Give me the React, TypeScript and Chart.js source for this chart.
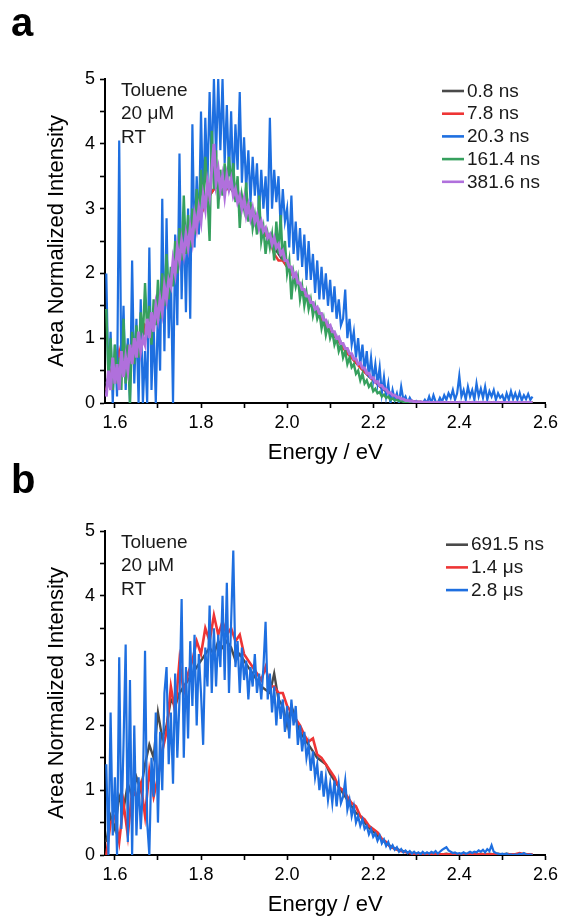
import React, { useEffect, useRef } from 'react';
import { Chart, registerables } from 'chart.js';

Chart.register(...registerables);

// ---------- data ----------
const ENERGY_FINE = [
  1.58, 1.585, 1.59, 1.595, 1.6, 1.605, 1.61, 1.615, 1.62, 1.625,
  1.63, 1.635, 1.64, 1.645, 1.65, 1.655, 1.66, 1.665, 1.67, 1.675,
  1.68, 1.685, 1.69, 1.695, 1.7, 1.705, 1.71, 1.715, 1.72, 1.725,
  1.73, 1.735, 1.74, 1.745, 1.75, 1.755, 1.76, 1.765, 1.77, 1.775,
  1.78, 1.785, 1.79, 1.795, 1.8, 1.805, 1.81, 1.815, 1.82, 1.825,
  1.83, 1.835, 1.84, 1.845, 1.85, 1.855, 1.86, 1.865, 1.87, 1.875,
  1.88, 1.885, 1.89, 1.895, 1.9, 1.905, 1.91, 1.915, 1.92, 1.925,
  1.93, 1.935, 1.94, 1.945, 1.95, 1.955, 1.96, 1.965, 1.97, 1.975,
  1.98, 1.985, 1.99, 1.995, 2.0, 2.005, 2.01, 2.015, 2.02, 2.025,
  2.03, 2.035, 2.04, 2.045, 2.05, 2.055, 2.06, 2.065, 2.07, 2.075,
  2.08, 2.085, 2.09, 2.095, 2.1, 2.105, 2.11, 2.115, 2.12, 2.125,
  2.13, 2.135, 2.14, 2.145, 2.15, 2.155, 2.16, 2.165, 2.17, 2.175,
  2.18, 2.185, 2.19, 2.195, 2.2, 2.205, 2.21, 2.215, 2.22, 2.225,
  2.23, 2.235, 2.24, 2.245, 2.25, 2.255, 2.26, 2.265, 2.27, 2.275,
  2.28, 2.285, 2.29, 2.295, 2.3, 2.305, 2.31, 2.315, 2.32, 2.325,
  2.33, 2.335, 2.34, 2.345, 2.35, 2.355, 2.36, 2.365, 2.37, 2.375,
  2.38, 2.385, 2.39, 2.395, 2.4, 2.405, 2.41, 2.415, 2.42, 2.425,
  2.43, 2.435, 2.44, 2.445, 2.45, 2.455, 2.46, 2.465, 2.47, 2.475,
  2.48, 2.485, 2.49, 2.495, 2.5, 2.505, 2.51, 2.515, 2.52, 2.525,
  2.53, 2.535, 2.54, 2.545, 2.55, 2.555, 2.56, 2.565, 2.57,
];

const ENERGY_COARSE = [
  1.58, 1.59, 1.6, 1.61, 1.62, 1.63, 1.64, 1.65, 1.66, 1.67,
  1.68, 1.69, 1.7, 1.71, 1.72, 1.73, 1.74, 1.75, 1.76, 1.77,
  1.78, 1.79, 1.8, 1.81, 1.82, 1.83, 1.84, 1.85, 1.86, 1.87,
  1.88, 1.89, 1.9, 1.91, 1.92, 1.93, 1.94, 1.95, 1.96, 1.97,
  1.98, 1.99, 2.0, 2.01, 2.02, 2.03, 2.04, 2.05, 2.06, 2.07,
  2.08, 2.09, 2.1, 2.11, 2.12, 2.13, 2.14, 2.15, 2.16, 2.17,
  2.18, 2.19, 2.2, 2.21, 2.22, 2.23, 2.24, 2.25, 2.26, 2.27,
  2.28, 2.29, 2.3, 2.31, 2.32, 2.33, 2.34, 2.35, 2.36, 2.37,
  2.38, 2.39, 2.4, 2.41, 2.42, 2.43, 2.44, 2.45, 2.46, 2.47,
  2.48, 2.49, 2.5, 2.51, 2.52, 2.53, 2.54, 2.55, 2.56, 2.57,
];

// Panel a
const A_GRAY_0_8NS = [
  0.3, 0.5, 0.5, 0.7, 0.6, 0.8, 0.8, 1.0, 1.0, 1.1,
  1.2, 1.3, 1.4, 1.6, 1.7, 1.9, 2.1, 2.3, 2.4, 2.6,
  2.7, 2.8, 2.9, 3.1, 3.2, 3.3, 3.35, 3.4, 3.35, 3.3,
  3.2, 3.1, 3.05, 2.95, 2.9, 2.8, 2.7, 2.6, 2.5, 2.4,
  2.3, 2.2, 2.1, 2.0, 1.9, 1.8, 1.7, 1.6, 1.5, 1.4,
  1.3, 1.2, 1.12, 1.03, 0.95, 0.86, 0.78, 0.7, 0.62, 0.55,
  0.48, 0.41, 0.35, 0.29, 0.23, 0.18, 0.14, 0.1, 0.07, 0.05,
  0.04, 0.03, 0.02, 0.015, 0.01, 0.01, 0.01, 0.01, 0.01, 0.01,
  0.01, 0.01, 0.01, 0.01, 0.01, 0.01, 0.01, 0.01, 0.01, 0.01,
  0.01, 0.01, 0.01, 0.01, 0.01, 0.01, 0.01, 0.01, 0.01, 0.01,
];

const A_RED_7_8NS = [
  0.2, 0.5, 0.4, 0.8, 0.5, 0.9, 0.7, 1.0, 0.9, 1.2,
  1.1, 1.4, 1.3, 1.6, 1.6, 1.9, 2.1, 2.3, 2.3, 2.6,
  2.6, 2.8, 2.9, 3.1, 3.2, 3.3, 3.4, 3.4, 3.3, 3.4,
  3.2, 3.1, 3.1, 2.9, 2.95, 2.8, 2.7, 2.6, 2.5, 2.3,
  2.2, 2.2, 2.1, 2.0, 1.9, 1.8, 1.7, 1.6, 1.5, 1.4,
  1.3, 1.2, 1.15, 1.05, 0.95, 0.85, 0.76, 0.7, 0.62, 0.55,
  0.48, 0.42, 0.35, 0.29, 0.23, 0.18, 0.14, 0.1, 0.08, 0.05,
  0.04, 0.03, 0.02, 0.015, 0.01, 0.01, 0.01, 0.01, 0.01, 0.01,
  0.01, 0.01, 0.01, 0.01, 0.01, 0.01, 0.01, 0.01, 0.01, 0.01,
  0.01, 0.01, 0.01, 0.01, 0.01, 0.01, 0.01, 0.01, 0.01, 0.01,
];

const A_BLUE_20_3NS = [
  2.0, 0.3, 1.1, 0.0, 0.9, 0.1, 4.05, 0.4, 1.5, 0.2,
  1.0, 0.0, 2.2, 0.3, 1.3, 0.0, 1.6, 0.0, 0.8, 0.0,
  2.4, 0.2, 1.2, 0.0, 1.5, 0.5, 3.15, 0.8, 2.85, 1.0,
  2.0, 0.0, 2.6, 1.2, 3.85, 1.6, 2.9, 1.4, 3.0, 1.3,
  4.3, 2.4, 3.5, 2.6, 4.5, 3.0, 4.4, 3.4, 4.8, 3.6,
  5.0, 3.8, 5.0, 3.9, 5.0, 3.7, 4.6, 3.5, 4.5, 3.3,
  4.3, 3.6, 4.8, 3.4, 4.1, 3.3, 3.9, 3.1, 3.8, 3.2,
  3.7, 2.9, 3.6, 3.0, 3.5, 2.8, 4.4, 3.0, 3.6, 3.1,
  3.5, 2.7, 3.3, 2.8, 3.0, 2.4, 3.2, 2.3, 2.8, 2.2,
  2.7, 2.1, 2.6, 1.9, 2.5, 1.9, 2.3, 1.7, 2.2, 1.6,
  2.1, 1.6, 2.0, 1.5, 1.9, 1.4, 1.8, 1.3, 1.6, 1.2,
  1.3, 1.75, 1.0, 1.3, 0.9, 1.1, 0.7, 1.0, 0.6, 0.9,
  0.5, 0.8, 0.4, 0.7, 0.35, 0.6, 0.3, 0.55, 0.15, 0.4,
  0.1, 0.3, 0.0, 0.2, 0.05, 0.15, 0.0, 0.25, 0.05, 0.1,
  0.0, 0.08, 0.02, 0.0, 0.03, 0.0, 0.02, 0.0, 0.05, 0.0,
  0.1, 0.0, 0.12, 0.02, 0.0, 0.08, 0.02, 0.12, 0.05, 0.15,
  0.08, 0.2, 0.05, 0.15, 0.42, 0.1, 0.2, 0.05, 0.25, 0.1,
  0.2, 0.05, 0.3, 0.1, 0.22, 0.08, 0.25, 0.05, 0.18, 0.1,
  0.2, 0.05, 0.15, 0.08, 0.12, 0.02, 0.15, 0.05, 0.18, 0.06,
  0.15, 0.05, 0.16, 0.04, 0.12, 0.06, 0.14, 0.05, 0.1,
];

const A_GREEN_161_4NS = [
  1.45, 0.4, 1.0, 0.2, 0.9, 0.3, 0.7, 0.2, 1.3, 0.3,
  0.9, 0.0, 1.1, 0.6, 1.2, 0.7, 1.4, 1.0, 1.85, 1.1,
  1.5, 0.9, 1.6, 1.2, 1.9, 1.3, 2.0, 1.5, 2.3, 1.6,
  2.1, 1.8, 2.5, 2.0, 2.7, 2.2, 3.2, 2.3, 2.9, 2.4,
  3.0, 2.6, 3.3, 2.8, 3.6, 3.0, 3.8, 3.2, 2.5, 4.2,
  3.3, 3.9, 3.0, 3.6, 3.2, 3.7, 3.3, 3.8, 3.4, 3.7,
  3.1, 3.5, 2.7, 3.2, 3.0, 3.4, 2.8, 3.1, 2.7, 2.9,
  2.6, 3.2, 2.5, 2.7, 2.3, 2.6, 2.4, 2.6, 2.2, 2.8,
  2.3, 2.9, 2.2, 2.5, 2.0, 2.2, 1.6, 2.0, 1.8, 1.95,
  1.6, 1.8, 1.5, 1.7, 1.45, 1.6, 1.35, 1.5, 1.3, 1.4,
  1.15, 1.3, 1.05, 1.2, 1.0, 1.1, 0.9, 1.0, 0.8, 0.9,
  0.7, 0.8, 0.6, 0.7, 0.55, 0.6, 0.45, 0.5, 0.35, 0.45,
  0.3, 0.35, 0.25, 0.3, 0.18, 0.22, 0.15, 0.17, 0.1, 0.13,
  0.08, 0.1, 0.05, 0.07, 0.04, 0.05, 0.03, 0.03, 0.02, 0.02,
  0.01, 0.02, 0.01, 0.0, 0.01, 0.0, 0.01, 0.0, 0.01, 0.0,
  0.01, 0.0, 0.01, 0.0, 0.01, 0.0, 0.01, 0.0, 0.01, 0.0,
  0.01, 0.0, 0.01, 0.0, 0.01, 0.0, 0.01, 0.0, 0.01, 0.0,
  0.01, 0.0, 0.01, 0.0, 0.01, 0.0, 0.01, 0.0, 0.01, 0.0,
  0.01, 0.0, 0.01, 0.0, 0.01, 0.0, 0.01, 0.0, 0.01, 0.0,
  0.01, 0.0, 0.01, 0.0, 0.01, 0.0, 0.01, 0.0, 0.01,
];

const A_PURPLE_381_6NS = [
  0.1, 0.5, 0.2, 0.7, 0.3, 0.6, 0.2, 0.8, 0.4, 0.7,
  0.5, 0.9, 0.6, 1.0, 0.7, 1.1, 0.8, 1.0, 0.9, 1.3,
  1.0, 1.4, 1.1, 1.5, 1.3, 1.6, 1.4, 1.8, 1.6, 1.9,
  1.8, 2.2, 2.0, 2.4, 2.2, 2.5, 2.3, 2.6, 2.4, 2.7,
  2.5, 2.9, 2.7, 3.0, 2.8, 3.2, 3.0, 3.4, 3.2, 3.6,
  4.0, 3.4, 3.6, 3.3, 3.5, 3.2, 3.5, 3.3, 3.45, 3.2,
  3.3, 3.1, 3.2, 3.0, 3.15, 2.9, 3.05, 2.85, 3.0, 2.8,
  2.9, 2.7, 2.8, 2.65, 2.7, 2.55, 2.6, 2.45, 2.55, 2.4,
  2.45, 2.3, 2.35, 2.2, 2.2, 2.1, 2.1, 1.95, 2.0, 1.85,
  1.85, 1.75, 1.75, 1.65, 1.65, 1.55, 1.55, 1.45, 1.48, 1.38,
  1.38, 1.28, 1.28, 1.18, 1.2, 1.1, 1.1, 1.0, 1.02, 0.92,
  0.92, 0.84, 0.84, 0.76, 0.76, 0.68, 0.68, 0.6, 0.62, 0.54,
  0.54, 0.46, 0.46, 0.39, 0.39, 0.32, 0.33, 0.27, 0.27, 0.22,
  0.21, 0.16, 0.16, 0.12, 0.12, 0.09, 0.09, 0.06, 0.06, 0.04,
  0.04, 0.03, 0.03, 0.02, 0.02, 0.015, 0.015, 0.01, 0.01, 0.01,
  0.01, 0.005, 0.01, 0.005, 0.01, 0.005, 0.01, 0.005, 0.01, 0.005,
  0.01, 0.005, 0.01, 0.005, 0.01, 0.005, 0.01, 0.005, 0.01, 0.005,
  0.01, 0.005, 0.01, 0.005, 0.01, 0.005, 0.01, 0.005, 0.01, 0.005,
  0.01, 0.005, 0.01, 0.005, 0.01, 0.005, 0.01, 0.005, 0.01, 0.005,
  0.01, 0.005, 0.01, 0.005, 0.01, 0.005, 0.01, 0.005, 0.01,
];

// Panel b
const B_GRAY_691_5NS = [
  0.2, 0.6, 0.4, 0.9, 0.7, 1.1, 0.9, 1.2, 1.0, 1.4,
  1.7, 1.5, 2.2, 1.8, 2.0, 2.4, 2.3, 2.5, 2.6, 2.7,
  2.8, 2.9, 3.0, 3.1, 3.2, 3.1, 3.3, 3.2, 3.3, 3.2,
  3.0, 3.1, 3.0, 2.9, 2.8, 2.7, 2.6, 2.55, 2.5, 2.8,
  2.4, 2.3, 2.0, 2.3, 2.1, 1.9, 1.8, 1.7, 1.6, 1.5,
  1.45, 1.4, 1.25, 1.15, 1.05, 0.95, 0.85, 0.75, 0.65, 0.6,
  0.5, 0.42, 0.36, 0.3, 0.24, 0.18, 0.14, 0.1, 0.08, 0.06,
  0.04, 0.03, 0.02, 0.02, 0.01, 0.02, 0.01, 0.02, 0.01, 0.02,
  0.01, 0.02, 0.01, 0.02, 0.01, 0.02, 0.01, 0.02, 0.01, 0.02,
  0.01, 0.02, 0.01, 0.02, 0.01, 0.01, 0.01, 0.02, 0.01, 0.01,
];

const B_RED_1_4US = [
  0.0, 0.5, 0.6, 0.2, 0.8, 0.3, 1.0, 0.9, 1.1, 0.6,
  1.3, 0.9, 1.2, 1.6, 1.9, 2.6, 2.2, 3.0, 2.5, 2.8,
  3.0, 3.3, 3.1, 3.5, 3.3, 3.7, 3.4, 3.6, 3.4, 3.5,
  3.3, 3.4, 3.1, 3.0, 2.9, 2.8, 2.7, 2.9, 2.6, 2.6,
  2.5, 2.5, 2.3, 2.2, 2.1, 2.0, 1.85, 1.75, 1.8, 1.55,
  1.5, 1.4, 1.3, 1.2, 1.05, 1.0, 0.9, 0.8, 0.75, 0.6,
  0.55, 0.45, 0.4, 0.35, 0.25, 0.2, 0.12, 0.1, 0.07, 0.05,
  0.04, 0.02, 0.01, 0.01, 0.01, 0.01, 0.01, 0.01, 0.01, 0.01,
  0.01, 0.01, 0.01, 0.01, 0.01, 0.01, 0.01, 0.01, 0.01, 0.01,
  0.01, 0.01, 0.01, 0.01, 0.01, 0.01, 0.03, 0.01, 0.01, 0.01,
];

const B_BLUE_2_8US = [
  1.4, 0.0, 2.2, 0.3, 1.2, 0.0, 3.05, 0.4, 1.7, 3.25,
  0.2, 2.7, 0.0, 2.0, 0.3, 1.2, 0.4, 1.0, 3.15, 0.5,
  0.0, 1.5, 0.9, 2.2, 0.5, 1.9, 1.0, 2.5, 2.9, 1.4,
  2.2, 1.1, 2.8, 1.5, 2.4, 3.95, 1.5, 2.9, 1.8, 3.3,
  2.3, 3.4, 2.0, 3.1, 2.5, 1.7, 3.2, 2.6, 3.85, 2.5,
  3.5, 2.6, 3.4, 2.9, 4.0, 2.7, 4.2, 2.5, 3.6, 4.7,
  2.9, 3.3, 2.5, 3.2, 2.7, 3.0, 2.4, 2.9, 2.6, 3.1,
  2.5, 2.8, 2.4, 2.9, 3.6, 2.4, 2.8, 2.2, 2.6, 2.0,
  2.5, 2.1, 2.4, 1.9, 2.3, 1.8, 2.4, 2.0, 2.3, 1.7,
  2.0, 1.6, 1.9, 1.5, 1.7, 1.3, 1.6, 1.2, 1.4, 1.0,
  1.3, 0.9, 1.2, 0.85, 1.1, 0.8, 1.15, 0.75, 1.1, 0.8,
  0.9, 1.15, 0.7, 0.85, 0.6, 0.75, 0.5, 0.6, 0.45, 0.55,
  0.4, 0.45, 0.32, 0.4, 0.28, 0.33, 0.22, 0.3, 0.18, 0.24,
  0.14, 0.2, 0.1, 0.15, 0.08, 0.12, 0.05, 0.09, 0.04, 0.07,
  0.03, 0.06, 0.02, 0.05, 0.02, 0.04, 0.01, 0.05, 0.02, 0.04,
  0.02, 0.05, 0.03, 0.06, 0.02, 0.05, 0.08, 0.1, 0.12, 0.07,
  0.05, 0.03, 0.04, 0.02, 0.03, 0.02, 0.04, 0.02, 0.03, 0.05,
  0.03, 0.05, 0.04, 0.07, 0.05, 0.08, 0.04, 0.09, 0.06, 0.15,
  0.05, 0.03, 0.02, 0.01, 0.02, 0.01, 0.02, 0.0, 0.01, 0.0,
  0.01, 0.0, 0.02, 0.01, 0.03, 0.01, 0.0, 0.01, 0.0,
];

const X_TICK_VALUES = [1.6, 1.7, 1.8, 1.9, 2.0, 2.1, 2.2, 2.3, 2.4, 2.5, 2.6];
const X_TICK_LABELS = ['1.6', '', '1.8', '', '2.0', '', '2.2', '', '2.4', '', '2.6'];
const Y_TICK_VALUES = [0, 0.5, 1, 1.5, 2, 2.5, 3, 3.5, 4, 4.5, 5];
const Y_TICK_LABELS = ['0', '', '1', '', '2', '', '3', '', '4', '', '5'];

const X_TITLE = 'Energy / eV';
const Y_TITLE = 'Area Normalized Intensity';
const ANNOTATION_LINES = ['Toluene', '20 μM', 'RT'];

const LABELS_A = ['0.8 ns', '7.8 ns', '20.3 ns', '161.4 ns', '381.6 ns'];
const LABELS_B = ['691.5 ns', '1.4 μs', '2.8 μs'];

// ---------- styling ----------
const FONT = 'Arial, "Liberation Sans", Helvetica, sans-serif';
const C_GRAY = '#4a4a4a';
const C_RED = '#ee3535';
const C_BLUE = '#1e6fe0';
const C_GREEN = '#36a05e';
const C_PURPLE = '#b070dc';

type Series = {
  label: string;
  energies: number[];
  values: number[];
  color: string;
  width: number;
  order: number;
};

const SERIES_A: Series[] = [
  { label: LABELS_A[0], energies: ENERGY_COARSE, values: A_GRAY_0_8NS, color: C_GRAY, width: 2.4, order: 5 },
  { label: LABELS_A[1], energies: ENERGY_COARSE, values: A_RED_7_8NS, color: C_RED, width: 2.4, order: 4 },
  { label: LABELS_A[2], energies: ENERGY_FINE, values: A_BLUE_20_3NS, color: C_BLUE, width: 2.2, order: 3 },
  { label: LABELS_A[3], energies: ENERGY_FINE, values: A_GREEN_161_4NS, color: C_GREEN, width: 2.4, order: 2 },
  { label: LABELS_A[4], energies: ENERGY_FINE, values: A_PURPLE_381_6NS, color: C_PURPLE, width: 3, order: 1 },
];

const SERIES_B: Series[] = [
  { label: LABELS_B[0], energies: ENERGY_COARSE, values: B_GRAY_691_5NS, color: C_GRAY, width: 2.4, order: 3 },
  { label: LABELS_B[1], energies: ENERGY_COARSE, values: B_RED_1_4US, color: C_RED, width: 2.6, order: 2 },
  { label: LABELS_B[2], energies: ENERGY_FINE, values: B_BLUE_2_8US, color: C_BLUE, width: 2.2, order: 1 },
];

type PanelProps = {
  letter: string;
  series: Series[];
  top: number;
  letterY: number;
  legendX: number;
  legendY: number;
};

function Panel({ letter, series, top, letterY, legendX, legendY }: PanelProps) {
  const ref = useRef<HTMLCanvasElement | null>(null);

  useEffect(() => {
    const canvas = ref.current;
    if (!canvas) return;

    const overlay = {
      id: 'overlay',
      afterDraw(chart: any) {
        const ctx = chart.ctx as CanvasRenderingContext2D;
        ctx.save();
        // panel letter
        ctx.fillStyle = '#000';
        ctx.font = `bold 40px ${FONT}`;
        ctx.textAlign = 'left';
        ctx.textBaseline = 'alphabetic';
        ctx.fillText(letter, 11, letterY);

        // annotation
        ctx.font = `19px ${FONT}`;
        ctx.textBaseline = 'middle';
        ctx.fillStyle = '#1a1a1a';
        ANNOTATION_LINES.forEach((t, i) => {
          ctx.fillText(t, 121, 91 + i * 23.2);
        });

        // legend
        series.forEach((s, i) => {
          const y = legendY + i * 22.7;
          ctx.strokeStyle = s.color;
          ctx.lineWidth = 2.6;
          ctx.beginPath();
          ctx.moveTo(legendX, y);
          ctx.lineTo(legendX + 22, y);
          ctx.stroke();
          ctx.fillStyle = '#1a1a1a';
          ctx.fillText(s.label, legendX + 25, y + 0.5);
        });
        ctx.restore();
      },
    };

    const axisCommon = {
      grid: {
        drawOnChartArea: false,
        drawTicks: true,
        tickLength: 5,
        tickWidth: 1.6,
        tickColor: '#000',
        color: '#000',
      },
      border: { display: true, color: '#000', width: 2 },
    };

    const chart = new Chart(canvas, {
      type: 'line',
      data: {
        datasets: series.map((s) => ({
          label: s.label,
          data: s.energies.map((e, i) => ({ x: e, y: s.values[i] })),
          borderColor: s.color,
          backgroundColor: s.color,
          borderWidth: s.width,
          borderJoinStyle: 'miter',
          pointRadius: 0,
          tension: 0,
          fill: false,
          order: s.order,
        })),
      },
      options: {
        responsive: false,
        animation: false,
        devicePixelRatio: 1,
        events: [],
        layout: { padding: { left: 0, right: 17.6, top: 79, bottom: 0 } },
        plugins: {
          legend: { display: false },
          tooltip: { enabled: false },
        },
        scales: {
          x: {
            type: 'linear',
            min: 1.577,
            max: 2.6,
            ...axisCommon,
            afterBuildTicks: (s: any) => {
              s.ticks = X_TICK_VALUES.map((v) => ({ value: v }));
            },
            afterFit: (s: any) => {
              s.height = 67;
              s.paddingLeft = 0;
              s.paddingRight = 0;
            },
            ticks: {
              autoSkip: false,
              maxRotation: 0,
              padding: 4,
              color: '#000',
              font: { family: FONT, size: 18 },
              callback: (_v: any, i: number) => X_TICK_LABELS[i],
            },
            title: {
              display: true,
              text: X_TITLE,
              color: '#000',
              font: { family: FONT, size: 22 },
              padding: { top: 0, bottom: 4 },
            },
          },
          y: {
            type: 'linear',
            min: 0,
            max: 5,
            ...axisCommon,
            afterBuildTicks: (s: any) => {
              s.ticks = Y_TICK_VALUES.map((v) => ({ value: v }));
            },
            afterFit: (s: any) => {
              s.width = 105;
              s.paddingTop = 0;
              s.paddingBottom = 0;
            },
            ticks: {
              autoSkip: false,
              padding: 5,
              color: '#000',
              font: { family: FONT, size: 18 },
              callback: (_v: any, i: number) => Y_TICK_LABELS[i],
            },
            title: {
              display: true,
              text: Y_TITLE,
              color: '#000',
              font: { family: FONT, size: 22 },
              padding: { top: 44, bottom: 0 },
            },
          },
        },
      } as any,
      plugins: [overlay],
    });

    return () => {
      chart.destroy();
    };
  }, [letter, series, letterY, legendX, legendY]);

  return (
    <canvas
      ref={ref}
      width={563}
      height={470}
      style={{ position: 'absolute', left: 0, top, width: 563, height: 470, display: 'block' }}
    />
  );
}

export default function App() {
  return (
    <div
      style={{
        position: 'absolute',
        left: 0,
        top: 0,
        width: 563,
        height: 920,
        overflow: 'hidden',
        background: '#fff',
      }}
    >
      <Panel letter="a" series={SERIES_A} top={0} letterY={36} legendX={442} legendY={91} />
      <Panel letter="b" series={SERIES_B} top={452} letterY={41} legendX={446} legendY={92.7} />
    </div>
  );
}
